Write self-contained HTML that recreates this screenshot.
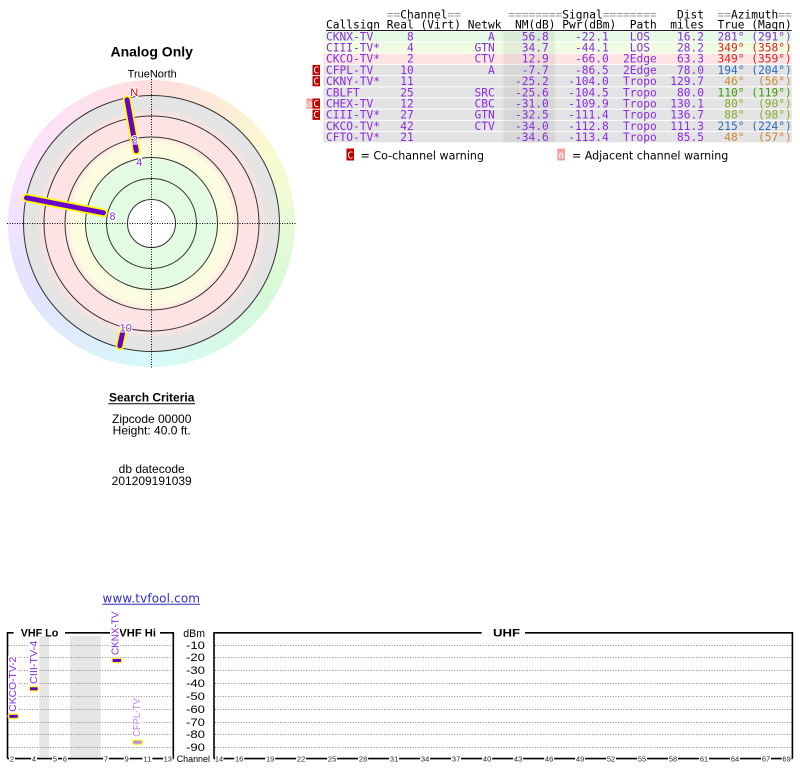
<!DOCTYPE html>
<html><head><meta charset="utf-8">
<style>
html,body{margin:0;padding:0;background:#fff;}
body{width:800px;height:768px;position:relative;overflow:hidden;}
#hue{position:absolute;left:8px;top:80px;width:287px;height:287px;border-radius:50%;
background:conic-gradient(hsl(0,90%,93%),hsl(30,90%,92%),hsl(60,85%,90%),hsl(90,80%,91%),hsl(120,75%,91%),hsl(150,75%,91%),hsl(180,80%,91%),hsl(210,85%,93%),hsl(240,85%,94%),hsl(270,85%,94%),hsl(300,85%,94%),hsl(330,90%,94%),hsl(360,90%,93%));}
svg{position:absolute;left:0;top:0;}
.e{text-anchor:end}
.m{text-anchor:middle}
</style></head><body>
<div id="hue"></div>
<svg width="800" height="768" viewBox="0 0 800 768" xmlns="http://www.w3.org/2000/svg">
<defs>
<radialGradient id="bd" gradientUnits="userSpaceOnUse" cx="151.5" cy="223.5" r="128.5">
<stop offset="0" stop-color="#e2fbe2"/>
<stop offset="0.48" stop-color="#e2fbe2"/>
<stop offset="0.54" stop-color="#fcfde0"/>
<stop offset="0.62" stop-color="#fdfce0"/>
<stop offset="0.68" stop-color="#fde3e3"/>
<stop offset="0.84" stop-color="#fde3e3"/>
<stop offset="0.9" stop-color="#e4e4e4"/>
<stop offset="1" stop-color="#e4e4e4"/>
</radialGradient>
</defs>

<!-- ===== Polar chart ===== -->
<g font-family="'Liberation Sans', Arial, sans-serif">
<text x="151.7" y="56.3" class="m" font-weight="bold" font-size="14">Analog Only</text>
<text x="152.2" y="77.3" class="m" font-size="11">TrueNorth</text>
</g>
<circle cx="151.5" cy="223.5" r="128" fill="url(#bd)"/>
<g fill="none" stroke="#333" stroke-width="1">
<circle cx="151.5" cy="223.5" r="128"/>
<circle cx="151.5" cy="223.5" r="107.5"/>
<circle cx="151.5" cy="223.5" r="86.5"/>
<circle cx="151.5" cy="223.5" r="66"/>
<circle cx="151.5" cy="223.5" r="45"/>
</g>
<circle cx="151.5" cy="223.5" r="24" fill="#fff" stroke="#333" stroke-width="1"/>
<line x1="7" y1="223.5" x2="296" y2="223.5" stroke="#000" stroke-width="1" stroke-dasharray="1 1.5"/>
<line x1="151.5" y1="79" x2="151.5" y2="368" stroke="#000" stroke-width="1" stroke-dasharray="1 1.5"/>

<g stroke-linecap="round">
<line x1="127.1" y1="99.8" x2="136.3" y2="150.8" stroke="#ffff00" stroke-width="8.5"/>
<line x1="127.1" y1="99.8" x2="136.3" y2="150.8" stroke="#6a00cc" stroke-width="5"/>
<line x1="26.5" y1="197.8" x2="103.5" y2="212.8" stroke="#ffff00" stroke-width="8.5"/>
<line x1="26.5" y1="197.8" x2="103.5" y2="212.8" stroke="#6a00cc" stroke-width="5"/>
<line x1="122.8" y1="331.7" x2="119.8" y2="345.9" stroke="#ffff00" stroke-width="8.5"/>
<line x1="122.8" y1="331.7" x2="119.8" y2="345.9" stroke="#6a00cc" stroke-width="5"/>
</g>
<g font-family="'Liberation Sans', Arial, sans-serif" font-size="11" stroke="#fff" stroke-width="2" paint-order="stroke">
<text x="134.2" y="96" class="m" fill="#e00000">N</text>
<text x="134.8" y="143.3" class="m" fill="#8a2be2">2</text>
<text x="139.2" y="166" class="m" fill="#8a2be2">4</text>
<text x="112.5" y="220" class="m" fill="#8a2be2">8</text>
<text x="125.8" y="331.7" class="m" fill="#8a2be2">10</text>
</g>

<!-- ===== Search criteria ===== -->
<g font-family="'Liberation Sans', Arial, sans-serif" font-size="12" fill="#000">
<text x="151.7" y="401.7" class="m" font-weight="bold">Search Criteria</text>
<line x1="108.3" y1="403.8" x2="195" y2="403.8" stroke="#000" stroke-width="1"/>
<text x="151.7" y="423" class="m">Zipcode 00000</text>
<text x="151.7" y="434.3" class="m">Height: 40.0 ft.</text>
<text x="151.7" y="473" class="m">db datecode</text>
<text x="151.7" y="485" class="m">201209191039</text>
</g>
<text x="102.5" y="602.3" font-family="'DejaVu Sans', Verdana, sans-serif" font-size="12" fill="#2f2fc8" textLength="97.5">www.tvfool.com</text>
<line x1="102.5" y1="604.2" x2="200" y2="604.2" stroke="#2f2fc8" stroke-width="1"/>

<!-- ===== Table ===== -->
<g>
<rect x="323.3" y="31.3" width="468.5" height="10.2" fill="#e4fae4"/>
<rect x="323.3" y="42.5" width="468.5" height="10.2" fill="#f0fce2"/>
<rect x="323.3" y="53.7" width="468.5" height="10.2" fill="#fde4e2"/>
<rect x="323.3" y="64.9" width="468.5" height="10.2" fill="#e3e3e3"/>
<rect x="323.3" y="76.1" width="468.5" height="10.2" fill="#e3e3e3"/>
<rect x="323.3" y="87.3" width="468.5" height="10.2" fill="#e3e3e3"/>
<rect x="323.3" y="98.5" width="468.5" height="10.2" fill="#e3e3e3"/>
<rect x="323.3" y="109.7" width="468.5" height="10.2" fill="#e3e3e3"/>
<rect x="323.3" y="120.9" width="468.5" height="10.2" fill="#e3e3e3"/>
<rect x="323.3" y="132.1" width="468.5" height="10.2" fill="#e3e3e3"/>
<rect x="503.5" y="31.3" width="51.5" height="111" fill="#000" fill-opacity="0.055"/>
</g>

<g font-family="'DejaVu Sans Mono', 'Liberation Mono', monospace" font-size="11.21" fill="#000">
<text x="386.75" y="18.5"><tspan fill="#999">==</tspan>Channel<tspan fill="#999">==</tspan></text>
<text x="508.25" y="18.5"><tspan fill="#999">========</tspan>Signal<tspan fill="#999">========</tspan></text>
<text x="677" y="18.5">Dist</text>
<text x="717.5" y="18.5"><tspan fill="#999">==</tspan>Azimuth<tspan fill="#999">==</tspan></text>
<text x="326" y="28.5">Callsign</text>
<text x="386.75" y="28.5">Real</text>
<text x="420.5" y="28.5">(Virt)</text>
<text x="467.75" y="28.5">Netwk</text>
<text x="515" y="28.5">NM(dB)</text>
<text x="562.25" y="28.5">Pwr(dBm)</text>
<text x="629.75" y="28.5">Path</text>
<text x="670.25" y="28.5">miles</text>
<text x="717.5" y="28.5">True</text>
<text x="751.25" y="28.5">(Magn)</text>
</g>
<line x1="326" y1="30.4" x2="791.75" y2="30.4" stroke="#000" stroke-width="0.9"/>

<g font-family="'DejaVu Sans Mono', 'Liberation Mono', monospace" font-size="11.21" fill="#8a2be2">
<g transform="translate(0,40.3)">
<text x="326">CKNX-TV</text><text x="413.75" class="e">8</text><text x="494.75" class="e">A</text><text x="548.75" class="e">56.8</text><text x="608.75" class="e">-22.1</text><text x="639.9" class="m">LOS</text><text x="704" class="e">16.2</text><text x="744.5" class="e">281°</text><text x="791.75" class="e">(291°)</text>
</g>
<g transform="translate(0,51.5)">
<text x="326">CIII-TV*</text><text x="413.75" class="e">4</text><text x="494.75" class="e">GTN</text><text x="548.75" class="e">34.7</text><text x="608.75" class="e">-44.1</text><text x="639.9" class="m">LOS</text><text x="704" class="e">28.2</text><text x="744.5" class="e" fill="#dd2020">349°</text><text x="791.75" class="e" fill="#dd2020">(358°)</text>
</g>
<g transform="translate(0,62.7)">
<text x="326">CKCO-TV*</text><text x="413.75" class="e">2</text><text x="494.75" class="e">CTV</text><text x="548.75" class="e">12.9</text><text x="608.75" class="e">-66.0</text><text x="639.9" class="m">2Edge</text><text x="704" class="e">63.3</text><text x="744.5" class="e" fill="#dd2020">349°</text><text x="791.75" class="e" fill="#dd2020">(359°)</text>
</g>
<g transform="translate(0,73.9)">
<text x="326">CFPL-TV</text><text x="413.75" class="e">10</text><text x="494.75" class="e">A</text><text x="548.75" class="e">-7.7</text><text x="608.75" class="e">-86.5</text><text x="639.9" class="m">2Edge</text><text x="704" class="e">78.0</text><text x="744.5" class="e" fill="#2a6cc0">194°</text><text x="791.75" class="e" fill="#2a6cc0">(204°)</text>
</g>
<g transform="translate(0,85.1)">
<text x="326">CKNY-TV*</text><text x="413.75" class="e">11</text><text x="548.75" class="e">-25.2</text><text x="608.75" class="e">-104.0</text><text x="639.9" class="m">Tropo</text><text x="704" class="e">129.7</text><text x="744.5" class="e" fill="#cc8a33">46°</text><text x="791.75" class="e" fill="#cc8a33">(56°)</text>
</g>
<g transform="translate(0,96.3)">
<text x="326">CBLFT</text><text x="413.75" class="e">25</text><text x="494.75" class="e">SRC</text><text x="548.75" class="e">-25.6</text><text x="608.75" class="e">-104.5</text><text x="639.9" class="m">Tropo</text><text x="704" class="e">80.0</text><text x="744.5" class="e" fill="#3c9c00">110°</text><text x="791.75" class="e" fill="#3c9c00">(119°)</text>
</g>
<g transform="translate(0,107.5)">
<text x="326">CHEX-TV</text><text x="413.75" class="e">12</text><text x="494.75" class="e">CBC</text><text x="548.75" class="e">-31.0</text><text x="608.75" class="e">-109.9</text><text x="639.9" class="m">Tropo</text><text x="704" class="e">130.1</text><text x="744.5" class="e" fill="#88aa2a">80°</text><text x="791.75" class="e" fill="#88aa2a">(90°)</text>
</g>
<g transform="translate(0,118.7)">
<text x="326">CIII-TV*</text><text x="413.75" class="e">27</text><text x="494.75" class="e">GTN</text><text x="548.75" class="e">-32.5</text><text x="608.75" class="e">-111.4</text><text x="639.9" class="m">Tropo</text><text x="704" class="e">136.7</text><text x="744.5" class="e" fill="#88aa2a">88°</text><text x="791.75" class="e" fill="#88aa2a">(98°)</text>
</g>
<g transform="translate(0,129.9)">
<text x="326">CKCO-TV*</text><text x="413.75" class="e">42</text><text x="494.75" class="e">CTV</text><text x="548.75" class="e">-34.0</text><text x="608.75" class="e">-112.8</text><text x="639.9" class="m">Tropo</text><text x="704" class="e">111.3</text><text x="744.5" class="e" fill="#2a6cc0">215°</text><text x="791.75" class="e" fill="#2a6cc0">(224°)</text>
</g>
<g transform="translate(0,141.1)">
<text x="326">CFTO-TV*</text><text x="413.75" class="e">21</text><text x="548.75" class="e">-34.6</text><text x="608.75" class="e">-113.4</text><text x="639.9" class="m">Tropo</text><text x="704" class="e">85.5</text><text x="744.5" class="e" fill="#cc8a33">48°</text><text x="791.75" class="e" fill="#cc8a33">(57°)</text>
</g>
</g>

<!-- warning icons -->
<g font-family="'DejaVu Sans Mono', 'Liberation Mono', monospace" font-size="10" fill="#fff">
<rect x="312.5" y="64.9" width="7.5" height="10.2" fill="#c00000"/><text x="316.25" y="73.4" class="m">C</text>
<rect x="312.5" y="76.1" width="7.5" height="10.2" fill="#c00000"/><text x="316.25" y="84.6" class="m">C</text>
<rect x="306.5" y="98.5" width="6" height="10.2" fill="#f29a9a"/><text x="309.5" y="106.8" class="m">a</text>
<rect x="312.5" y="98.5" width="7.5" height="10.2" fill="#c00000"/><text x="316.25" y="107" class="m">C</text>
<rect x="312.5" y="109.7" width="7.5" height="10.2" fill="#c00000"/><text x="316.25" y="118.2" class="m">C</text>
<rect x="346.5" y="148.5" width="7.5" height="12" fill="#c00000"/><text x="350.25" y="158.5" class="m">C</text>
<rect x="557.3" y="148.5" width="7.7" height="12" fill="#f4a0a0"/><text x="561.15" y="158" class="m">a</text>
</g>
<g font-family="'DejaVu Sans', Verdana, sans-serif" font-size="11.1" fill="#000">
<text x="360.5" y="159.3" textLength="123.5">= Co-channel warning</text>
<text x="572" y="159.3" textLength="156.3">= Adjacent channel warning</text>
</g>

<!-- ===== Bottom chart ===== -->
<rect x="39.3" y="636" width="10" height="121" fill="#e6e6e6"/>
<rect x="70" y="636" width="30.7" height="121" fill="#e6e6e6"/>

<g stroke="#8a8a8a" stroke-width="1" stroke-dasharray="1 1.6">
<line x1="8.5" y1="645.5" x2="172.5" y2="645.5"/>
<line x1="8.5" y1="657.5" x2="172.5" y2="657.5"/>
<line x1="8.5" y1="670.5" x2="172.5" y2="670.5"/>
<line x1="8.5" y1="683.5" x2="172.5" y2="683.5"/>
<line x1="8.5" y1="696.5" x2="172.5" y2="696.5"/>
<line x1="8.5" y1="709.5" x2="172.5" y2="709.5"/>
<line x1="8.5" y1="722.5" x2="172.5" y2="722.5"/>
<line x1="8.5" y1="734.5" x2="172.5" y2="734.5"/>
<line x1="8.5" y1="747.5" x2="172.5" y2="747.5"/>
<line x1="215" y1="645.5" x2="791.5" y2="645.5"/>
<line x1="215" y1="657.5" x2="791.5" y2="657.5"/>
<line x1="215" y1="670.5" x2="791.5" y2="670.5"/>
<line x1="215" y1="683.5" x2="791.5" y2="683.5"/>
<line x1="215" y1="696.5" x2="791.5" y2="696.5"/>
<line x1="215" y1="709.5" x2="791.5" y2="709.5"/>
<line x1="215" y1="722.5" x2="791.5" y2="722.5"/>
<line x1="215" y1="734.5" x2="791.5" y2="734.5"/>
<line x1="215" y1="747.5" x2="791.5" y2="747.5"/>
</g>

<!-- frames -->
<g stroke="#000" stroke-width="1.6" fill="none">
<polyline points="7.5,758.6 7.5,632.8 173.3,632.8 173.3,758.6"/>
<line x1="7.5" y1="758.6" x2="173.3" y2="758.6"/>
<polyline points="214,758.6 214,632.8 792.4,632.8 792.4,758.6"/>
<line x1="214" y1="758.6" x2="792.4" y2="758.6"/>
</g>
<!-- gaps in top line -->
<rect x="13.5" y="630" width="51.5" height="6" fill="#fff"/>
<rect x="110" y="630" width="50" height="6" fill="#fff"/>
<rect x="481.7" y="630" width="43.3" height="6" fill="#fff"/>
<g font-family="'Liberation Sans', Arial, sans-serif" font-weight="bold" fill="#000">
<text x="20.7" y="636.5" font-size="11" textLength="37.6" lengthAdjust="spacingAndGlyphs">VHF Lo</text>
<text x="119.3" y="636.5" font-size="11" textLength="36.7" lengthAdjust="spacingAndGlyphs">VHF Hi</text>
<text x="493" y="636.6" font-size="11" textLength="27" lengthAdjust="spacingAndGlyphs">UHF</text>
</g>

<!-- dBm labels -->
<g font-family="'Liberation Sans', Arial, sans-serif" font-size="11" fill="#000">
<text x="205" y="636.8" class="e" textLength="21.7" lengthAdjust="spacingAndGlyphs">dBm</text>
<text x="205" y="648.8" class="e" textLength="19" lengthAdjust="spacingAndGlyphs">-10</text>
<text x="205" y="661" class="e" textLength="19" lengthAdjust="spacingAndGlyphs">-20</text>
<text x="205" y="674" class="e" textLength="19" lengthAdjust="spacingAndGlyphs">-30</text>
<text x="205" y="687" class="e" textLength="19" lengthAdjust="spacingAndGlyphs">-40</text>
<text x="205" y="700" class="e" textLength="19" lengthAdjust="spacingAndGlyphs">-50</text>
<text x="205" y="713" class="e" textLength="19" lengthAdjust="spacingAndGlyphs">-60</text>
<text x="205" y="726" class="e" textLength="19" lengthAdjust="spacingAndGlyphs">-70</text>
<text x="205" y="738" class="e" textLength="19" lengthAdjust="spacingAndGlyphs">-80</text>
<text x="205" y="751" class="e" textLength="19" lengthAdjust="spacingAndGlyphs">-90</text>
<text x="176.7" y="762" font-size="9" textLength="33.3" lengthAdjust="spacingAndGlyphs">Channel</text>
</g>

<!-- tick labels -->
<g fill="#fff">
<rect x="9" y="754.5" width="6" height="8"/>
<rect x="31" y="754.5" width="6" height="8"/>
<rect x="52" y="754.5" width="6" height="8"/>
<rect x="62" y="754.5" width="6" height="8"/>
<rect x="103" y="754.5" width="6" height="8"/>
<rect x="123.7" y="754.5" width="6" height="8"/>
<rect x="142.4" y="754.5" width="10" height="8"/>
<rect x="163.1" y="754.5" width="9.5" height="8"/>
<rect x="215" y="754.5" width="8.5" height="8"/>
<rect x="234.2" y="754.5" width="10" height="8"/>
<rect x="265.2" y="754.5" width="10" height="8"/>
<rect x="296.1" y="754.5" width="10" height="8"/>
<rect x="327.1" y="754.5" width="10" height="8"/>
<rect x="358.1" y="754.5" width="10" height="8"/>
<rect x="389.1" y="754.5" width="10" height="8"/>
<rect x="420.1" y="754.5" width="10" height="8"/>
<rect x="451.1" y="754.5" width="10" height="8"/>
<rect x="482.1" y="754.5" width="10" height="8"/>
<rect x="513.1" y="754.5" width="10" height="8"/>
<rect x="544.1" y="754.5" width="10" height="8"/>
<rect x="575.1" y="754.5" width="10" height="8"/>
<rect x="606" y="754.5" width="10" height="8"/>
<rect x="637" y="754.5" width="10" height="8"/>
<rect x="668" y="754.5" width="10" height="8"/>
<rect x="699" y="754.5" width="10" height="8"/>
<rect x="730" y="754.5" width="10" height="8"/>
<rect x="761" y="754.5" width="10" height="8"/>
<rect x="781.7" y="754.5" width="9.8" height="8"/>
</g>
<g font-family="'Liberation Sans', Arial, sans-serif" font-size="7.5" fill="#222" text-anchor="middle">
<text x="12" y="761.5">2</text>
<text x="34" y="761.5">4</text>
<text x="55" y="761.5">5</text>
<text x="65" y="761.5">6</text>
<text x="106" y="761.5">7</text>
<text x="126.7" y="761.5">9</text>
<text x="147.4" y="761.5">11</text>
<text x="167.8" y="761.5">13</text>
<text x="219" y="761.5">14</text>
<text x="239.2" y="761.5">16</text>
<text x="270.2" y="761.5">19</text>
<text x="301.1" y="761.5">22</text>
<text x="332.1" y="761.5">25</text>
<text x="363.1" y="761.5">28</text>
<text x="394.1" y="761.5">31</text>
<text x="425.1" y="761.5">34</text>
<text x="456.1" y="761.5">37</text>
<text x="487.1" y="761.5">40</text>
<text x="518.1" y="761.5">43</text>
<text x="549.1" y="761.5">46</text>
<text x="580.1" y="761.5">49</text>
<text x="611" y="761.5">52</text>
<text x="642" y="761.5">55</text>
<text x="673" y="761.5">58</text>
<text x="704" y="761.5">61</text>
<text x="735" y="761.5">64</text>
<text x="766" y="761.5">67</text>
<text x="786.6" y="761.5">69</text>
</g>

<!-- station labels (rotated) -->
<g fill="#fff">
<rect x="8" y="655.5" width="9.5" height="57.5"/>
<rect x="28.6" y="639.5" width="9.5" height="45.5"/>
<rect x="110.3" y="610.5" width="9.5" height="45.5"/>
<rect x="132" y="697.3" width="9.5" height="40.5"/>
</g>
<g font-family="'Liberation Sans', Arial, sans-serif" font-size="10">
<text transform="translate(16.2,711.7) rotate(-90)" fill="#8a2be2" textLength="55" lengthAdjust="spacingAndGlyphs">CKCO-TV-2</text>
<text transform="translate(36.8,684) rotate(-90)" fill="#8a2be2" textLength="43.3" lengthAdjust="spacingAndGlyphs">CIII-TV-4</text>
<text transform="translate(118.5,655) rotate(-90)" fill="#8a2be2" textLength="43.3" lengthAdjust="spacingAndGlyphs">CKNX-TV</text>
<text transform="translate(140.2,736.7) rotate(-90)" fill="#b78ae8" textLength="38.4" lengthAdjust="spacingAndGlyphs">CFPL-TV</text>
</g>

<!-- station bars -->
<rect x="7.5" y="713.3" width="12" height="6" rx="3" fill="#ffff30"/>
<rect x="9.3" y="714.8" width="8.4" height="3" fill="#6000c0"/>
<rect x="28.3" y="686" width="11" height="5.6" rx="2.8" fill="#ffff30"/>
<rect x="30" y="687.3" width="7.6" height="3" fill="#6000c0"/>
<rect x="111" y="657.7" width="11.7" height="5.6" rx="2.8" fill="#ffff30"/>
<rect x="112.7" y="659" width="8.3" height="3" fill="#6000c0"/>
<rect x="131.7" y="739.3" width="11.7" height="5.7" rx="2.8" fill="#ffff30"/>
<rect x="133.4" y="740.7" width="8.3" height="3" fill="#b78ae8"/>
</svg>
</body></html>
